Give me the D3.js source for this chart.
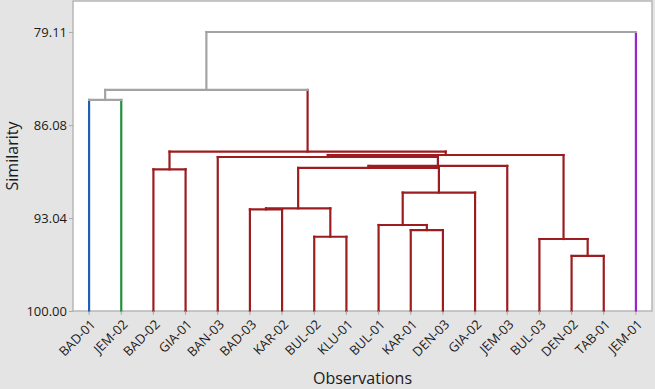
<!DOCTYPE html>
<html>
<head>
<meta charset="utf-8">
<script src="https://cdn.jsdelivr.net/npm/d3@7"></script>
<style>
    body { margin: 0; background: #e4e4e4; }
    svg { display: block; font-family: "Open Sans", sans-serif; }
</style>
</head>
<body>
<div id="chart"></div>
<script>
    // leaves in dendrogram order
    var leaves = ["BAD-01", "JEM-02", "BAD-02", "GIA-01", "BAN-03", "BAD-03", "KAR-02", "BUL-02", "KLU-01",
        "BUL-01", "KAR-01", "DEN-03", "GIA-02", "JEM-03", "BUL-03", "DEN-02", "TAB-01", "JEM-01"];
    // final cluster of each leaf (colour group)
    var leafGroup = [0, 1, 2, 2, 2, 2, 2, 2, 2, 2, 2, 2, 2, 2, 2, 2, 2, 3];
    var groupColors = ["#2160b0", "#22903c", "#9c1c20", "#9a22d0"];
    var mixedColor = "#a3a3a3";

    // merge steps: child a, child b, similarity (ids >= 18 are earlier merges)
    var mergeA = [15, 14, 7, 10, 9, 5, 23, 22, 2, 24, 27, 4, 29, 26, 0, 32, 33];
    var mergeB = [16, 18, 8, 11, 21, 6, 20, 12, 3, 25, 13, 28, 19, 30, 1, 31, 17];
    var mergeSim = [95.88, 94.61, 94.44, 93.94, 93.56, 92.39, 92.31, 91.13, 89.39, 89.29, 89.14,
        88.47, 88.32, 88.06, 84.20, 83.45, 79.11];

    var yTicks = [100.00, 93.04, 86.08, 79.11];

    var width = 655, height = 389;
    var margin = {top: 1, right: 3, bottom: 78, left: 73};
    var chartWidth = width - margin.left - margin.right;
    var chartHeight = height - margin.top - margin.bottom;

    var svg = d3.select('#chart').append('svg')
        .attr('width', width)
        .attr('height', height);

    svg.append('rect')
        .attr('width', width).attr('height', height)
        .attr('fill', '#e4e4e4');

    var g = svg.append('g')
        .attr('transform', 'translate(' + margin.left + ',' + margin.top + ')');

    g.append('rect')
        .attr('width', chartWidth).attr('height', chartHeight)
        .attr('fill', '#fff')
        .attr('stroke', '#b7b7b7')
        .attr('stroke-width', 1.5);

    var x = d3.scaleBand().domain(leaves).range([0, chartWidth]).padding(0);
    var y = d3.scaleLinear().domain([100, 76.79]).range([chartHeight, 0]);

    // build nodes
    var nodes = leaves.map(function (name, i) {
        return {x: x(name) + x.bandwidth() / 2, sim: 100, group: leafGroup[i]};
    });
    mergeSim.forEach(function (s, i) {
        var a = nodes[mergeA[i]], b = nodes[mergeB[i]];
        nodes.push({
            x: (a.x + b.x) / 2, sim: s, a: a, b: b,
            group: a.group === b.group ? a.group : -1
        });
    });
    function col(n) { return n.group < 0 ? mixedColor : groupColors[n.group]; }

    var links = g.append('g').attr('fill', 'none').attr('stroke-width', 2.2).attr('stroke-linecap', 'square');
    nodes.slice(leaves.length).forEach(function (n) {
        [n.a, n.b].forEach(function (c) {
            links.append('line')
                .attr('x1', c.x).attr('x2', c.x)
                .attr('y1', y(c.sim)).attr('y2', y(n.sim))
                .attr('stroke', col(c));
        });
        links.append('line')
            .attr('x1', n.a.x).attr('x2', n.b.x)
            .attr('y1', y(n.sim)).attr('y2', y(n.sim))
            .attr('stroke', col(n));
    });

    // axes
    var yAxis = g.append('g')
        .call(d3.axisLeft(y).tickValues(yTicks).tickFormat(d3.format('.2f')).tickSize(4).tickPadding(2));
    var xAxis = g.append('g')
        .attr('transform', 'translate(0,' + chartHeight + ')')
        .call(d3.axisBottom(x).tickSize(4).tickPadding(2));
    [yAxis, xAxis].forEach(function (a) {
        a.select('.domain').remove();
        a.selectAll('line').attr('stroke', '#aaa');
        a.selectAll('text').attr('fill', '#1a1a1a').style('font-size', '13px').style('font-family', '"Open Sans", sans-serif');
    });
    xAxis.selectAll('text')
        .style('text-anchor', 'end')
        .attr('x', 0).attr('y', 0).attr('dy', '0.35em')
        .attr('transform', 'translate(4,11) rotate(-45)');

    svg.append('text')
        .attr('transform', 'translate(18,' + (margin.top + chartHeight / 2) + ') rotate(-90)')
        .attr('text-anchor', 'middle')
        .style('font-size', '16px')
        .attr('fill', '#1a1a1a')
        .text('Similarity');

    svg.append('text')
        .attr('x', margin.left + chartWidth / 2)
        .attr('y', 384)
        .attr('text-anchor', 'middle')
        .style('font-size', '16px')
        .attr('fill', '#1a1a1a')
        .text('Observations');
</script>
</body>
</html>
